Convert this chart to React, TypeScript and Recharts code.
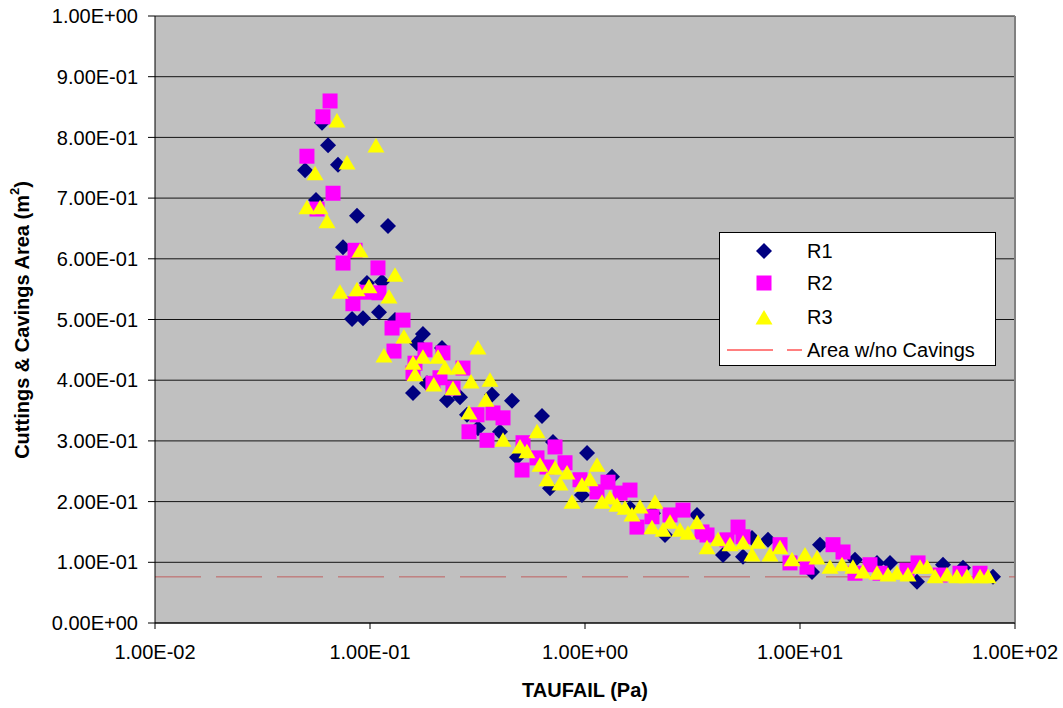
import React from 'react';
import { ScatterChart, Scatter, XAxis, YAxis, CartesianGrid, ReferenceLine } from 'recharts';

const X_TICKS = [0.01, 0.1, 1, 10, 100];
const Y_TICKS = [0, 0.1, 0.2, 0.3, 0.4, 0.5, 0.6, 0.7, 0.8, 0.9, 1.0];
const NO_CAVINGS_AREA = 0.076;

const R1_X = [0.0499, 0.0598, 0.0638, 0.0561, 0.0710, 0.0749, 0.0870, 0.0825, 0.0928, 0.1213, 0.0968, 0.1137, 0.1101, 0.1307, 0.1654, 0.1763, 0.2162, 0.1585, 0.1841, 0.2281, 0.2622, 0.2826, 0.3178, 0.3694, 0.4024, 0.4576, 0.4828, 0.631, 0.6875, 0.710, 0.968, 1.022, 1.335, 1.619, 2.071, 2.356, 3.318, 4.383, 5.430, 5.98, 7.10, 11.37, 12.39, 18.02, 22.81, 26.22, 35.01, 46.24, 57.28, 79.0];
const R1_Y = [0.746, 0.824, 0.787, 0.697, 0.755, 0.619, 0.671, 0.501, 0.502, 0.654, 0.560, 0.562, 0.512, 0.499, 0.461, 0.476, 0.453, 0.379, 0.395, 0.367, 0.372, 0.343, 0.321, 0.376, 0.315, 0.366, 0.273, 0.341, 0.222, 0.298, 0.211, 0.280, 0.241, 0.189, 0.181, 0.145, 0.178, 0.112, 0.109, 0.140, 0.137, 0.084, 0.129, 0.104, 0.099, 0.099, 0.068, 0.096, 0.091, 0.076];

const R2_X = [0.0652, 0.0604, 0.0509, 0.0673, 0.0567, 0.0852, 0.0749, 0.1089, 0.0958, 0.1101, 0.0833, 0.1424, 0.1266, 0.1293, 0.1802, 0.1619, 0.1585, 0.1962, 0.2184, 0.2707, 0.2116, 0.2432, 0.3146, 0.3733, 0.4156, 0.2887, 0.3501, 0.5149, 0.7253, 0.598, 0.5094, 0.6657, 0.8073, 0.9479, 1.279, 1.619, 1.455, 1.137, 2.049, 1.745, 2.485, 2.856, 3.501, 3.694, 4.576, 5.149, 5.43, 8.073, 8.985, 10.78, 14.24, 15.85, 18.02, 21.16, 23.56, 31.46, 35.4, 44.79, 55.49, 68.75];
const R2_Y = [0.860, 0.834, 0.769, 0.708, 0.682, 0.614, 0.593, 0.585, 0.545, 0.544, 0.526, 0.499, 0.486, 0.448, 0.450, 0.428, 0.412, 0.395, 0.445, 0.420, 0.404, 0.387, 0.343, 0.346, 0.338, 0.315, 0.301, 0.297, 0.290, 0.272, 0.252, 0.257, 0.264, 0.236, 0.232, 0.219, 0.214, 0.216, 0.175, 0.158, 0.178, 0.186, 0.150, 0.145, 0.137, 0.158, 0.142, 0.129, 0.099, 0.092, 0.129, 0.117, 0.082, 0.096, 0.082, 0.087, 0.099, 0.079, 0.082, 0.082];

const R3_X = [0.0702, 0.1066, 0.0782, 0.0555, 0.0509, 0.0586, 0.0631, 0.0899, 0.1307, 0.0725, 0.0870, 0.0989, 0.1226, 0.1438, 0.1161, 0.1585, 0.1763, 0.2071, 0.1619, 0.198, 0.2233, 0.3178, 0.2566, 0.295, 0.3616, 0.3464, 0.2887, 0.2432, 0.598, 0.4156, 0.4986, 0.537, 0.6177, 0.7253, 0.825, 1.137, 0.6657, 0.968, 0.7651, 1.055, 0.870, 1.20, 1.307, 1.409, 1.535, 1.802, 1.654, 2.116, 2.049, 2.306, 2.485, 2.766, 3.013, 3.318, 3.694, 4.156, 4.726, 5.43, 5.98, 6.38, 7.253, 8.073, 9.18, 10.55, 12.0, 13.79, 15.68, 17.63, 19.62, 22.81, 25.66, 28.26, 31.78, 36.16, 39.0, 42.46, 48.28, 53.7, 59.8, 68.75, 74.9];
const R3_Y = [0.827, 0.786, 0.758, 0.740, 0.684, 0.684, 0.661, 0.613, 0.573, 0.545, 0.549, 0.554, 0.537, 0.471, 0.440, 0.428, 0.438, 0.438, 0.409, 0.392, 0.420, 0.453, 0.420, 0.397, 0.400, 0.367, 0.346, 0.386, 0.315, 0.301, 0.290, 0.282, 0.260, 0.255, 0.247, 0.260, 0.236, 0.227, 0.229, 0.236, 0.199, 0.199, 0.206, 0.194, 0.189, 0.191, 0.178, 0.199, 0.157, 0.153, 0.166, 0.153, 0.148, 0.165, 0.124, 0.137, 0.129, 0.132, 0.112, 0.133, 0.112, 0.124, 0.104, 0.112, 0.107, 0.092, 0.096, 0.092, 0.084, 0.082, 0.079, 0.082, 0.079, 0.092, 0.092, 0.076, 0.079, 0.076, 0.076, 0.076, 0.076];

const toPoints = (xs: number[], ys: number[]) => xs.map((x, i) => ({ x, y: ys[i] }));
const r1 = toPoints(R1_X, R1_Y);
const r2 = toPoints(R2_X, R2_Y);
const r3 = toPoints(R3_X, R3_Y);

const FONT = '"Liberation Sans", Arial, sans-serif';

const fmtExp = (v: number) => {
  if (v === 0) return '0.00E+00';
  let e = Math.floor(Math.log10(Math.abs(v)) + 1e-9);
  let m = v / Math.pow(10, e);
  if (Math.round(m * 100) / 100 >= 10) { m /= 10; e += 1; }
  const sign = e < 0 ? '-' : '+';
  return m.toFixed(2) + 'E' + sign + String(Math.abs(e)).padStart(2, '0');
};

const DiamondShape = (props: any) => {
  const { cx, cy } = props;
  const r = 8;
  return <polygon points={`${cx},${cy - r} ${cx + r},${cy} ${cx},${cy + r} ${cx - r},${cy}`} fill="#000080" />;
};
const SquareShape = (props: any) => {
  const { cx, cy } = props;
  return <rect x={cx - 7.5} y={cy - 7.5} width={15} height={15} fill="#FF00FF" />;
};
const TriangleShape = (props: any) => {
  const { cx, cy } = props;
  return <polygon points={`${cx},${cy - 8} ${cx + 8.5},${cy + 6.5} ${cx - 8.5},${cy + 6.5}`} fill="#FFFF00" />;
};

const LegendBox = () => (
  <div style={{ position: 'absolute', left: 719, top: 232, width: 277, height: 134, boxSizing: 'border-box', border: '1px solid #000', background: '#fff' }}>
    <svg width={275} height={132} style={{ position: 'absolute', left: 0, top: 0 }}>
      <g fontFamily={FONT} fontSize={20} fill="#000">
        <DiamondShape cx={44} cy={18} />
        <text x={87} y={18} dominantBaseline="central">R1</text>
        <SquareShape cx={44} cy={50} />
        <text x={87} y={50} dominantBaseline="central">R2</text>
        <TriangleShape cx={44} cy={85} />
        <text x={87} y={84} dominantBaseline="central">R3</text>
        <line x1={7} y1={117} x2={53} y2={117} stroke="#FF0000" strokeWidth={1} />
        <line x1={67} y1={117} x2={82} y2={117} stroke="#FF0000" strokeWidth={1} />
        <text x={87} y={117} dominantBaseline="central">Area w/no Cavings</text>
      </g>
    </svg>
  </div>
);

export default function App() {
  return (
    <div style={{ position: 'absolute', left: 0, top: 0, width: 1063, height: 708, background: '#fff', fontFamily: FONT }}>
      <ScatterChart width={1063} height={708} margin={{ top: 16, right: 48, left: 0, bottom: 0 }}>
        <CartesianGrid horizontal={true} vertical={false} fill="#C0C0C0" stroke="#000" strokeOpacity={0.9} />
        <XAxis
          type="number"
          dataKey="x"
          scale="log"
          domain={[0.01, 100]}
          ticks={X_TICKS}
          allowDataOverflow
          tickFormatter={fmtExp}
          height={85}
          tickSize={6}
          tickMargin={16}
          tick={{ fontSize: 20, fill: '#000', fontFamily: FONT }}
          axisLine={{ stroke: '#000' }}
          tickLine={{ stroke: '#000' }}
          label={{
            content: () => (
              <text x={585} y={697} textAnchor="middle" fontFamily={FONT} fontSize={20} fontWeight="bold" fill="#000">TAUFAIL (Pa)</text>
            ),
          }}
        />
        <YAxis
          type="number"
          dataKey="y"
          domain={[0, 1]}
          ticks={Y_TICKS}
          tickFormatter={fmtExp}
          width={155}
          tickSize={7}
          tickMargin={10}
          tick={{ fontSize: 20, fill: '#000', fontFamily: FONT }}
          axisLine={{ stroke: '#000' }}
          tickLine={{ stroke: '#000' }}
          label={{
            content: () => (
              <text x={22} y={320} transform="rotate(-90 22 320)" textAnchor="middle" dominantBaseline="central" fontFamily={FONT} fontSize={20} fontWeight="bold" fill="#000">
                {'Cuttings & Cavings Area (m'}
                <tspan dy={-8} fontSize={13}>2</tspan>
                <tspan dy={8}>)</tspan>
              </text>
            ),
          }}
        />
        <ReferenceLine x={100} stroke="#808080" strokeWidth={2} />
        <ReferenceLine y={NO_CAVINGS_AREA} stroke="#C04040" strokeOpacity={0.75} strokeWidth={1} strokeDasharray="46 15" />
        <Scatter name="R1" data={r1} shape={DiamondShape} isAnimationActive={false} />
        <Scatter name="R2" data={r2} shape={SquareShape} isAnimationActive={false} />
        <Scatter name="R3" data={r3} shape={TriangleShape} isAnimationActive={false} />
      </ScatterChart>
      <LegendBox />
    </div>
  );
}
